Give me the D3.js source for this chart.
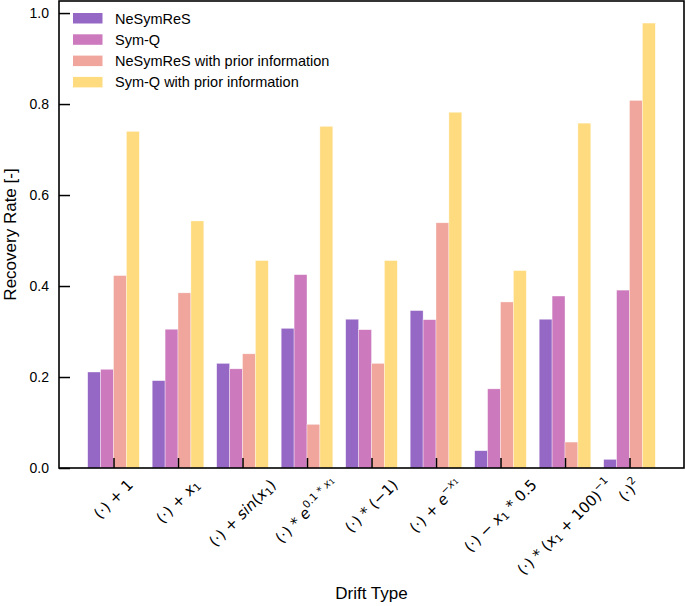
<!DOCTYPE html>
<html>
<head>
<meta charset="utf-8">
<script src="https://cdn.jsdelivr.net/npm/d3@7"></script>
<style>
  body { margin: 0; background: #fff; }
  text { font-family: "Liberation Sans", Arial, sans-serif; fill: #000; }
  .math { font-family: "DejaVu Sans", sans-serif; }
</style>
</head>
<body>
<div id="chart"></div>
<script>
var w = 685, h = 606;

// drift types, math pieces: [text, style] ; n normal, i italic, sub, sup, supi (italic sup), supsub
var driftTypes = [
  [["(·) + 1", "n"]],
  [["(·) + ", "n"], ["x", "i"], ["1", "sub"]],
  [["(·) + ", "n"], ["sin", "i"], ["(", "n"], ["x", "i"], ["1", "sub"], [")", "n"]],
  [["(·) * ", "n"], ["e", "i"], ["0.1 * ", "sup"], ["x", "supi"], ["1", "supsub"]],
  [["(·) * (−1)", "n"]],
  [["(·) + ", "n"], ["e", "i"], ["−", "sup"], ["x", "supi"], ["1", "supsub"]],
  [["(·) − ", "n"], ["x", "i"], ["1", "sub"], [" * 0.5", "n"]],
  [["(·) * (", "n"], ["x", "i"], ["1", "sub"], [" + 100)", "n"], ["−1", "sup"]],
  [["(·)", "n"], ["2", "sup"]]
];

var seriesNames = ["NeSymReS", "Sym-Q", "NeSymReS with prior information", "Sym-Q with prior information"];
var seriesColors = ["#9568c6", "#cc7abd", "#f0a69d", "#fedb7e"];

var nesymres      = [0.211, 0.192, 0.230, 0.307, 0.327, 0.346, 0.038, 0.327, 0.019];
var symq          = [0.217, 0.305, 0.218, 0.425, 0.304, 0.326, 0.174, 0.378, 0.391];
var nesymresPrior = [0.423, 0.385, 0.251, 0.096, 0.230, 0.539, 0.365, 0.057, 0.808];
var symqPrior     = [0.740, 0.543, 0.456, 0.751, 0.456, 0.782, 0.434, 0.758, 0.978];
var allSeries = [nesymres, symq, nesymresPrior, symqPrior];

var yTicks = [0.0, 0.2, 0.4, 0.6, 0.8, 1.0];

var pL = 59, pR = 684, pT = 1, pB = 468;

var svg = d3.select('#chart').append('svg')
  .attr('width', w)
  .attr('height', h);

var x = d3.scaleLinear().domain([-0.845, driftTypes.length - 1 + 0.845]).range([pL, pR]);
var y = d3.scaleLinear().domain([0, 1.0265]).range([pB, pT]);

var barW = x(0.2) - x(0);

// bars
allSeries.forEach(function(vals, s) {
  svg.append('g').selectAll('rect')
    .data(vals)
    .enter().append('rect')
    .attr('x', function(d, i) { return x(i) + (s - 2) * barW; })
    .attr('y', function(d) { return y(d); })
    .attr('width', barW)
    .attr('height', function(d) { return y(0) - y(d); })
    .attr('fill', seriesColors[s])
    .attr('stroke', '#fff')
    .attr('stroke-opacity', 0.6)
    .attr('stroke-width', 0.6);
});

// y axis, ticks inward
var yAxis = d3.axisLeft(y).tickValues(yTicks).tickFormat(d3.format('.1f')).tickSizeInner(-11).tickSizeOuter(0).tickPadding(10);
var gy = svg.append('g').attr('transform', 'translate(' + pL + ',0)').call(yAxis);
gy.select('.domain').remove();
gy.selectAll('line').attr('stroke', '#000').attr('stroke-width', 1.5);
gy.selectAll('text').style('font-family', '"Liberation Sans", Arial, sans-serif').style('font-size', '14px');

// x axis ticks inward
var xAxis = d3.axisBottom(x).tickValues(d3.range(driftTypes.length)).tickSizeInner(-10).tickSizeOuter(0).tickFormat('');
var gx = svg.append('g').attr('transform', 'translate(0,' + pB + ')').call(xAxis);
gx.select('.domain').remove();
gx.selectAll('line').attr('stroke', '#000').attr('stroke-width', 1.5);

// frame
svg.append('rect')
  .attr('x', pL).attr('y', pT)
  .attr('width', pR - pL).attr('height', pB - pT)
  .attr('fill', 'none').attr('stroke', '#000').attr('stroke-width', 1.6);

// rotated math tick labels
var fs = 15;
driftTypes.forEach(function(parts, i) {
  var t = svg.append('text').attr('class', 'math').style('font-size', fs + 'px');
  var level = 0;
  parts.forEach(function(p) {
    var ts = t.append('tspan').text(p[0]);
    var st = p[1], target = 0;
    if (st === 'i' || st === 'supi') ts.style('font-style', 'italic');
    if (st === 'sub') { ts.style('font-size', (fs * 0.7) + 'px'); target = 3; }
    if (st === 'sup' || st === 'supi') { ts.style('font-size', (fs * 0.7) + 'px'); target = -6; }
    if (st === 'supsub') { ts.style('font-size', (fs * 0.5) + 'px'); target = -4; }
    ts.attr('dy', target - level);
    level = target;
  });
  var tw = t.node().getComputedTextLength();
  var side = (tw + fs) / Math.SQRT2;
  var cx = x(i), cy = pB + 9 + side / 2;
  t.attr('text-anchor', 'middle')
    .attr('dominant-baseline', 'central')
    .attr('transform', 'translate(' + cx + ',' + cy + ') rotate(-45)');
});

// axis titles
svg.append('text')
  .attr('x', (pL + pR) / 2).attr('y', 599)
  .attr('text-anchor', 'middle')
  .style('font-size', '17px')
  .text('Drift Type');

svg.append('text')
  .attr('transform', 'translate(16,' + ((pT + pB) / 2) + ') rotate(-90)')
  .attr('text-anchor', 'middle')
  .style('font-size', '17px')
  .text('Recovery Rate [-]');

// legend
var legend = svg.append('g').attr('transform', 'translate(73,13)');
seriesNames.forEach(function(name, s) {
  var row = legend.append('g').attr('transform', 'translate(0,' + (s * 21.3) + ')');
  row.append('rect').attr('width', 29.5).attr('height', 10.5).attr('fill', seriesColors[s]);
  row.append('text').attr('x', 42).attr('y', 5.5).attr('dy', '0.35em')
    .style('font-size', '14.5px').text(name);
});
</script>
</body>
</html>
